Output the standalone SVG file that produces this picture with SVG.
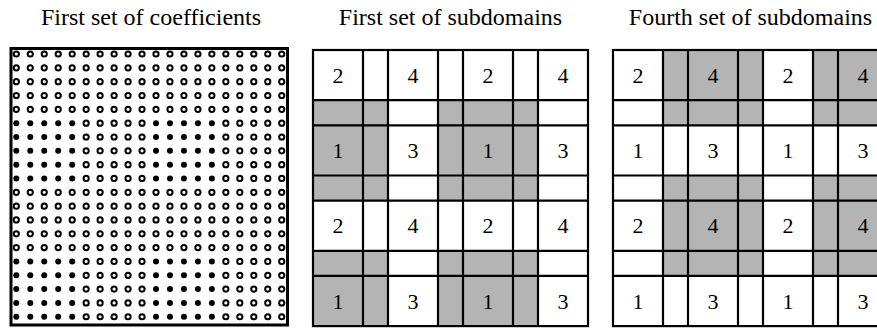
<svg xmlns="http://www.w3.org/2000/svg" xmlns:xlink="http://www.w3.org/1999/xlink" width="877" height="328" viewBox="0 0 877 328">
<style>
.title{font-family:"Liberation Serif","Times New Roman",serif;font-size:24px;fill:#000;text-anchor:middle}
.num{font-family:"Liberation Serif","Times New Roman",serif;font-size:22px;fill:#000;text-anchor:middle}
.o{fill:#fff;stroke:#000;stroke-width:2}
.f{fill:#000}
.ln{stroke:#000;stroke-width:2.2;fill:none}
.sh{fill:#b4b4b4}
</style>
<defs>
<g id="o5"><circle class="o" cx="0" cy="0" r="2.6"/><circle class="o" cx="13.97" cy="0" r="2.6"/><circle class="o" cx="27.94" cy="0" r="2.6"/><circle class="o" cx="41.91" cy="0" r="2.6"/><circle class="o" cx="55.88" cy="0" r="2.6"/></g>
<g id="f5"><circle class="f" cx="0" cy="0" r="3"/><circle class="f" cx="13.97" cy="0" r="3"/><circle class="f" cx="27.94" cy="0" r="3"/><circle class="f" cx="41.91" cy="0" r="3"/><circle class="f" cx="55.88" cy="0" r="3"/></g>
<g id="rowA"><use xlink:href="#o5"/><use xlink:href="#o5" x="69.85"/><use xlink:href="#o5" x="139.7"/><use xlink:href="#o5" x="209.55"/></g>
<g id="rowB"><use xlink:href="#f5"/><use xlink:href="#o5" x="69.85"/><use xlink:href="#f5" x="139.7"/><use xlink:href="#o5" x="209.55"/></g>
<g id="blkA"><use xlink:href="#rowA"/><use xlink:href="#rowA" y="13.83"/><use xlink:href="#rowA" y="27.66"/><use xlink:href="#rowA" y="41.49"/><use xlink:href="#rowA" y="55.32"/></g>
<g id="blkB"><use xlink:href="#rowB"/><use xlink:href="#rowB" y="13.83"/><use xlink:href="#rowB" y="27.66"/><use xlink:href="#rowB" y="41.49"/><use xlink:href="#rowB" y="55.32"/></g>
<g id="gridlines">
<rect class="ln" x="0" y="0" width="275" height="276.1"/>
<line class="ln" x1="50" y1="0" x2="50" y2="276.1"/>
<line class="ln" x1="75" y1="0" x2="75" y2="276.1"/>
<line class="ln" x1="125" y1="0" x2="125" y2="276.1"/>
<line class="ln" x1="150" y1="0" x2="150" y2="276.1"/>
<line class="ln" x1="200" y1="0" x2="200" y2="276.1"/>
<line class="ln" x1="225" y1="0" x2="225" y2="276.1"/>
<line class="ln" x1="0" y1="50.2" x2="275" y2="50.2"/>
<line class="ln" x1="0" y1="75.3" x2="275" y2="75.3"/>
<line class="ln" x1="0" y1="125.5" x2="275" y2="125.5"/>
<line class="ln" x1="0" y1="150.6" x2="275" y2="150.6"/>
<line class="ln" x1="0" y1="200.8" x2="275" y2="200.8"/>
<line class="ln" x1="0" y1="225.9" x2="275" y2="225.9"/>
</g>
<g id="nums">
<text class="num" x="25" y="32.6">2</text><text class="num" x="100" y="32.6">4</text><text class="num" x="175" y="32.6">2</text><text class="num" x="250" y="32.6">4</text>
<text class="num" x="25" y="107.9">1</text><text class="num" x="100" y="107.9">3</text><text class="num" x="175" y="107.9">1</text><text class="num" x="250" y="107.9">3</text>
<text class="num" x="25" y="183.2">2</text><text class="num" x="100" y="183.2">4</text><text class="num" x="175" y="183.2">2</text><text class="num" x="250" y="183.2">4</text>
<text class="num" x="25" y="258.5">1</text><text class="num" x="100" y="258.5">3</text><text class="num" x="175" y="258.5">1</text><text class="num" x="250" y="258.5">3</text>
</g>
</defs>
<rect width="877" height="328" fill="#fff"/>

<g id="coefficients">
<text class="title" x="151" y="25">First set of coefficients</text>
<use xlink:href="#blkA" x="16.3" y="54"/>
<use xlink:href="#blkB" x="16.3" y="123.15"/>
<use xlink:href="#blkA" x="16.3" y="192.3"/>
<use xlink:href="#blkB" x="16.3" y="261.45"/>
<rect x="11" y="48.5" width="276.5" height="276.5" fill="none" stroke="#000" stroke-width="3"/>
</g>

<g id="first-subdomains">
<text class="title" x="450.5" y="25">First set of subdomains</text>
<g transform="translate(313,50)">
<rect class="sh" x="0" y="50.2" width="75" height="100.4"/>
<rect class="sh" x="125" y="50.2" width="100" height="100.4"/>
<rect class="sh" x="0" y="200.8" width="75" height="75.3"/>
<rect class="sh" x="125" y="200.8" width="100" height="75.3"/>
<use xlink:href="#gridlines"/>
<use xlink:href="#nums"/>
</g>
</g>

<g id="fourth-subdomains">
<text class="title" x="750.5" y="25">Fourth set of subdomains</text>
<g transform="translate(613,50)">
<rect class="sh" x="50" y="0" width="100" height="75.3"/>
<rect class="sh" x="200" y="0" width="75" height="75.3"/>
<rect class="sh" x="50" y="125.5" width="100" height="100.4"/>
<rect class="sh" x="200" y="125.5" width="75" height="100.4"/>
<use xlink:href="#gridlines"/>
<use xlink:href="#nums"/>
</g>
</g>
</svg>
